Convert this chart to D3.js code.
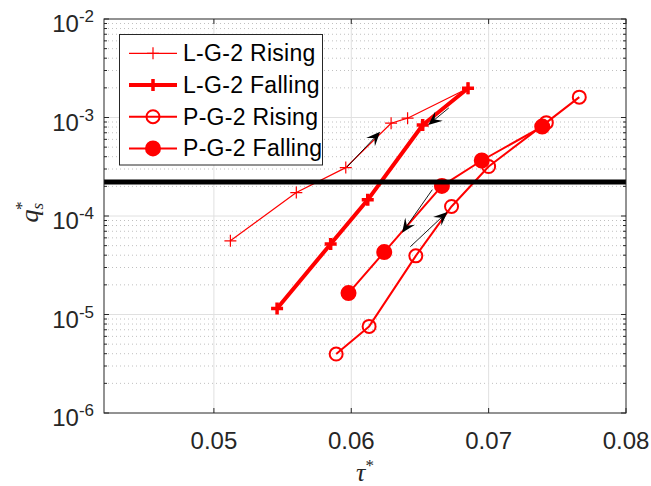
<!DOCTYPE html>
<html>
<head>
<meta charset="utf-8">
<script src="https://cdn.jsdelivr.net/npm/d3@7"></script>
<style>
  body { margin: 0; background: #fff; }
  svg { display: block; }
</style>
</head>
<body>
<svg id="chart" width="651" height="486"></svg>
<script>
// data
const lgRiseTau = [0.0512, 0.0560, 0.0596, 0.0629, 0.0641, 0.0685];
const lgRiseQ   = [5.6e-5, 1.73e-4, 3.1e-4, 8.75e-4, 9.84e-4, 1.98e-3];

const lgFallTau = [0.0685, 0.0652, 0.0612, 0.0585, 0.0546];
const lgFallQ   = [1.98e-3, 8.4e-4, 1.46e-4, 5.2e-5, 1.15e-5];

const pgRiseTau = [0.0589, 0.0613, 0.0647, 0.0673, 0.0700, 0.0742, 0.0766];
const pgRiseQ   = [3.97e-6, 7.57e-6, 3.94e-5, 1.25e-4, 3.18e-4, 8.87e-4, 1.61e-3];

const pgFallTau = [0.0739, 0.0695, 0.0666, 0.0624, 0.0598];
const pgFallQ   = [8.09e-4, 3.66e-4, 2.02e-4, 4.3e-5, 1.65e-5];

const threshold = 2.22e-4;

// arrows: [tau0, q0, tau1, q1]
const arrows = [
  [0.0597, 3.15e-4, 0.0621, 7.15e-4],
  [0.0671, 1.25e-3, 0.0656, 8.41e-4],
  [0.0659, 1.85e-4, 0.0637, 6.76e-5],
  [0.0643, 4.88e-5, 0.0670, 1.10e-4]
];

const xTicks = [0.05, 0.06, 0.07, 0.08];
const yTicks = [1e-6, 1e-5, 1e-4, 1e-3, 1e-2];
const legendLabels = ['L-G-2 Rising', 'L-G-2 Falling', 'P-G-2 Rising', 'P-G-2 Falling'];

const box = { left: 104, right: 626, top: 19, bottom: 413 };
const axisColor = '#262626';
const red = '#ff0000';

const svg = d3.select('#chart');

const x = d3.scaleLinear().domain([0.042, 0.08]).range([box.left, box.right]);
const y = d3.scaleLog().domain([1e-6, 1e-2]).range([box.bottom, box.top]);

// minor y values
const minorY = [];
for (let e = -6; e < -2; e++) {
  for (let m = 2; m <= 9; m++) minorY.push(m * Math.pow(10, e));
}

// grid
const grid = svg.append('g');
grid.selectAll('.minor')
  .data(minorY)
  .join('line')
  .attr('x1', box.left).attr('x2', box.right)
  .attr('y1', d => y(d)).attr('y2', d => y(d))
  .attr('stroke', '#c0c0c0')
  .attr('stroke-width', 1)
  .attr('stroke-dasharray', '1,3');

grid.selectAll('.majY')
  .data(yTicks.slice(1, -1))
  .join('line')
  .attr('x1', box.left).attr('x2', box.right)
  .attr('y1', d => y(d)).attr('y2', d => y(d))
  .attr('stroke', '#e0e0e0');

grid.selectAll('.majX')
  .data(xTicks.slice(0, -1))
  .join('line')
  .attr('x1', d => x(d)).attr('x2', d => x(d))
  .attr('y1', box.top).attr('y2', box.bottom)
  .attr('stroke', '#e0e0e0');

// series
const line = d3.line().x(d => x(d[0])).y(d => y(d[1]));
const zip = (a, b) => a.map((v, i) => [v, b[i]]);

const series = [
  { pts: zip(lgRiseTau, lgRiseQ), width: 1.2, marker: 'plus', size: 6, mw: 1.2 },
  { pts: zip(lgFallTau, lgFallQ), width: 4, marker: 'plus', size: 6, mw: 3.5 },
  { pts: zip(pgRiseTau, pgRiseQ), width: 2, marker: 'open', size: 6.5, mw: 2 },
  { pts: zip(pgFallTau, pgFallQ), width: 2, marker: 'filled', size: 7, mw: 2 }
];

function drawMarker(g, cx, cy, s) {
  if (s.marker === 'plus') {
    g.append('path')
      .attr('d', `M${cx - s.size},${cy}H${cx + s.size}M${cx},${cy - s.size}V${cy + s.size}`)
      .attr('stroke', red)
      .attr('stroke-width', s.mw)
      .attr('fill', 'none');
  } else {
    g.append('circle')
      .attr('cx', cx).attr('cy', cy).attr('r', s.size)
      .attr('stroke', red)
      .attr('stroke-width', s.mw)
      .attr('fill', s.marker === 'filled' ? red : 'none');
  }
}

series.forEach(s => {
  const g = svg.append('g');
  g.append('path')
    .datum(s.pts)
    .attr('d', line)
    .attr('fill', 'none')
    .attr('stroke', red)
    .attr('stroke-width', s.width)
    .attr('stroke-linejoin', 'round');
  s.pts.forEach(p => drawMarker(g, x(p[0]), y(p[1]), s));
});

// threshold line
svg.append('line')
  .attr('x1', box.left).attr('x2', box.right)
  .attr('y1', y(threshold)).attr('y2', y(threshold))
  .attr('stroke', '#000')
  .attr('stroke-width', 5);

// axes box and ticks
const axes = svg.append('g').attr('stroke', axisColor).attr('fill', 'none');
axes.append('rect')
  .attr('x', box.left).attr('y', box.top)
  .attr('width', box.right - box.left).attr('height', box.bottom - box.top)
  .attr('stroke-width', 1);

xTicks.forEach(t => {
  axes.append('line').attr('x1', x(t)).attr('x2', x(t)).attr('y1', box.bottom).attr('y2', box.bottom - 5);
  axes.append('line').attr('x1', x(t)).attr('x2', x(t)).attr('y1', box.top).attr('y2', box.top + 5);
});
yTicks.forEach(t => {
  axes.append('line').attr('x1', box.left).attr('x2', box.left + 5).attr('y1', y(t)).attr('y2', y(t));
  axes.append('line').attr('x1', box.right).attr('x2', box.right - 5).attr('y1', y(t)).attr('y2', y(t));
});
minorY.forEach(t => {
  axes.append('line').attr('x1', box.left).attr('x2', box.left + 3).attr('y1', y(t)).attr('y2', y(t));
  axes.append('line').attr('x1', box.right).attr('x2', box.right - 3).attr('y1', y(t)).attr('y2', y(t));
});

// tick labels
const font = 'Liberation Sans, Arial, Helvetica, sans-serif';
svg.append('g')
  .selectAll('text')
  .data(xTicks)
  .join('text')
  .attr('x', d => x(d))
  .attr('y', 449)
  .attr('text-anchor', 'middle')
  .attr('font-family', font)
  .attr('font-size', 24)
  .attr('fill', axisColor)
  .text(d3.format('.2f'));

const yl = svg.append('g')
  .selectAll('text')
  .data(yTicks)
  .join('text')
  .attr('x', 94)
  .attr('y', d => y(d) + 13)
  .attr('text-anchor', 'end')
  .attr('font-family', font)
  .attr('font-size', 24)
  .attr('fill', axisColor);
yl.append('tspan').text('10');
yl.append('tspan')
  .attr('font-size', 17)
  .attr('dy', -10)
  .text(d => String(Math.round(Math.log10(d))));

// axis labels
const serif = 'Liberation Serif, Times New Roman, serif';
const xl = svg.append('text')
  .attr('x', 365)
  .attr('y', 481)
  .attr('text-anchor', 'middle')
  .attr('font-family', serif)
  .attr('font-size', 26)
  .attr('fill', axisColor);
xl.append('tspan').attr('font-style', 'italic').text('τ');
xl.append('tspan').attr('font-size', 17).attr('dy', -10).text('*');

const ylab = svg.append('text')
  .attr('transform', `translate(38,${(box.top + box.bottom) / 2 - 4}) rotate(-90)`)
  .attr('text-anchor', 'middle')
  .attr('font-family', serif)
  .attr('font-size', 26)
  .attr('fill', axisColor);
ylab.append('tspan').attr('font-style', 'italic').text('q');
ylab.append('tspan').attr('font-size', 17).attr('font-style', 'italic').attr('dy', 5).text('s');
ylab.append('tspan').attr('font-size', 17).attr('dx', -7).attr('dy', -16).text('*');

// arrows
const arrowG = svg.append('g');
arrows.forEach(a => {
  const x0 = x(a[0]), y0 = y(a[1]), x1 = x(a[2]), y1 = y(a[3]);
  const ang = Math.atan2(y1 - y0, x1 - x0);
  const L = 14, W = 6;
  const ux = Math.cos(ang), uy = Math.sin(ang);
  const px = -uy, py = ux;
  const bx = x1 - ux * L, by = y1 - uy * L;
  const nx = x1 - ux * L * 0.6, ny = y1 - uy * L * 0.6;
  arrowG.append('line')
    .attr('x1', x0).attr('y1', y0)
    .attr('x2', nx).attr('y2', ny)
    .attr('stroke', '#000')
    .attr('stroke-width', 0.9);
  arrowG.append('path')
    .attr('d', `M${x1},${y1}L${bx + px * W},${by + py * W}L${nx},${ny}L${bx - px * W},${by - py * W}Z`)
    .attr('fill', '#000');
});

// legend
const lg = svg.append('g');
lg.append('rect')
  .attr('x', 119.5).attr('y', 34.5)
  .attr('width', 203).attr('height', 130.5)
  .attr('fill', '#fff')
  .attr('stroke', axisColor)
  .attr('stroke-width', 1);

legendLabels.forEach((label, i) => {
  const cy = 53.3 + i * 31.7;
  const s = series[i];
  lg.append('line')
    .attr('x1', 129).attr('x2', 177)
    .attr('y1', cy).attr('y2', cy)
    .attr('stroke', red)
    .attr('stroke-width', s.width);
  drawMarker(lg, 153, cy, s);
  lg.append('text')
    .attr('x', 183)
    .attr('y', cy + 8)
    .attr('font-family', font)
    .attr('font-size', 23)
    .attr('letter-spacing', 0.3)
    .attr('fill', '#000')
    .text(label);
});
</script>
</body>
</html>
